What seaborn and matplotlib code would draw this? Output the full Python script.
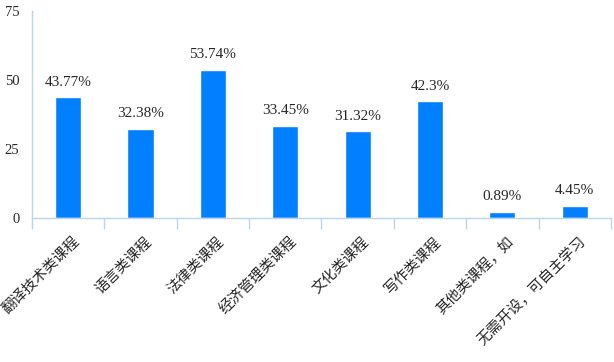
import numpy as np
import pandas as pd
import matplotlib
matplotlib.use('Agg')
import matplotlib.pyplot as plt
import matplotlib.transforms as mtransforms
from matplotlib.ticker import FixedLocator
import seaborn as sns

categories = ['翻译技术类课程', '语言类课程', '法律类课程', '经济管理类课程',
              '文化类课程', '写作类课程', '其他类课程，如', '无需开设，可自主学习']
labels = ['43.77%', '32.38%', '53.74%', '33.45%', '31.32%', '42.3%', '0.89%', '4.45%']
# bar heights as drawn in the picture
heights = [43.77, 32.38, 53.74, 33.45, 31.32, 42.3, 2.3, 4.45]
yticks = [0, 25, 50, 75]

df = pd.DataFrame({'cat': categories, 'val': heights})

sns.set_style('white')
plt.rcParams['font.family'] = ['Liberation Serif', 'Noto Sans CJK SC']

fig = plt.figure(figsize=(6.14, 3.62), dpi=100)
ax = fig.add_axes([0.052, 0.398, 0.943, 0.572])
sns.barplot(data=df, x='cat', y='val', color='#0080ff', saturation=1,
            width=0.36, ax=ax)

ax.set_ylim(0, 75)
ax.set_xlim(-0.5, len(categories) - 0.5)
ax.set_yticks(yticks)
ax.tick_params(axis='y', length=0, labelsize=10.5, pad=9)
ax.set_xlabel('')
ax.set_ylabel('')

spine_c = '#bcd3ec'
for s in ['top', 'right']:
    ax.spines[s].set_visible(False)
for s in ['left', 'bottom']:
    ax.spines[s].set_color(spine_c)
    ax.spines[s].set_linewidth(1.0)

ax.xaxis.set_minor_locator(FixedLocator(np.arange(-0.5, len(categories), 1.0)))
ax.tick_params(axis='x', which='major', length=0, pad=12)
ax.tick_params(axis='x', which='minor', bottom=True, length=8, color=spine_c, width=1.0)
ax.set_xticks(range(len(categories)))
ax.set_xticklabels(categories, rotation=45, ha='right', rotation_mode='anchor',
                   family=['Noto Sans CJK SC'], fontsize=10.5)
shift = mtransforms.ScaledTranslation(4 / 100, 0, fig.dpi_scale_trans)
for lab in ax.get_xticklabels():
    lab.set_transform(lab.get_transform() + shift)

for i, (h, t) in enumerate(zip(heights, labels)):
    ax.annotate(t, (i, h), xytext=(0, 6), textcoords='offset points',
                ha='center', va='bottom', fontsize=11, family=['Liberation Serif'])

fig.savefig('out.png', dpi=100)
